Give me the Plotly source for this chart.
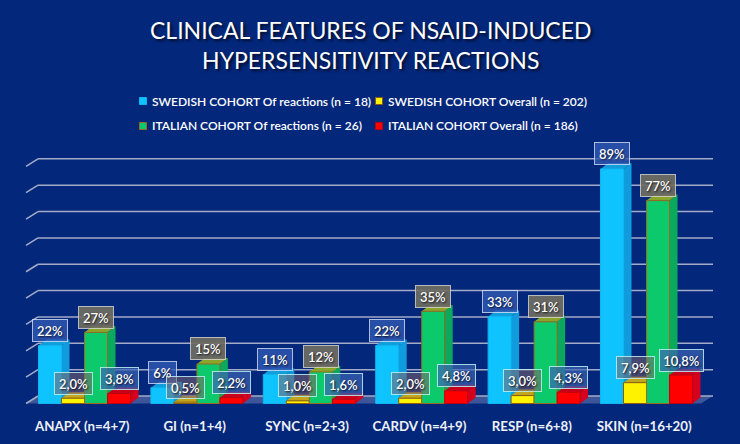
import plotly.graph_objects as go

categories = ["ANAPX (n=4+7)", "GI (n=1+4)", "SYNC (n=2+3)", "CARDV (n=4+9)", "RESP (n=6+8)", "SKIN (n=16+20)"]
swedish_reactions = [22, 6, 11, 22, 33, 89]
swedish_overall = [2.0, 0.5, 1.0, 2.0, 3.0, 7.9]
italian_reactions = [27, 15, 12, 35, 31, 77]
italian_overall = [3.8, 2.2, 1.6, 4.8, 4.3, 10.8]
legend_names = ["SWEDISH COHORT Of reactions (n = 18)", "SWEDISH COHORT Overall (n = 202)",
                "ITALIAN COHORT Of reactions (n = 26)", "ITALIAN COHORT Overall (n = 186)"]
title_text = "CLINICAL FEATURES OF NSAID-INDUCED<br>HYPERSENSITIVITY REACTIONS"
grid_values = list(range(0, 100, 10))

BG = "#03277b"
FONT = "Lato"
PX_X = 112.4        # px per category
PX_Y = 2.635        # px per percent
X0_PX = 84.5
BASE_PX = 403.5
W, H = 740, 444
BOT = 39.0
TOP = 130.0
xrange_ = [-X0_PX / PX_X, (W - X0_PX) / PX_X]
yrange_ = [-(H - BOT - BASE_PX) / PX_Y, (BASE_PX - TOP) / PX_Y]
bar_w = 23 / PX_X


def py(p):
    """Pixel row from the top -> paper fraction of the plot area."""
    return (H - BOT - p) / (H - BOT - TOP)


styles = [
    dict(front="#0fc3ff", side="#0f9bdc", top="#119fdc", line="#0fb4f0", box="rgba(50,90,180,0.80)", boxline="rgba(225,235,255,0.75)"),
    dict(front="#fff200", side="#c8a81a", top="#c2a51c", line="#8a5a10", box="rgba(125,100,110,0.55)", boxline="rgba(190,240,240,0.85)"),
    dict(front="#0cc96c", side="#0aa95c", top="#8aa52a", line="#9a6a1e", box="rgba(112,108,98,0.92)", boxline="rgba(225,225,215,0.75)"),
    dict(front="#ff0000", side="#d4001e", top="#c9001c", line="#c00010", box="rgba(60,100,180,0.70)", boxline="rgba(190,240,240,0.85)"),
]
series = [swedish_reactions, swedish_overall, italian_reactions, italian_overall]
fmt = [lambda v: f"{v:.0f}%", lambda v: f"{v:.1f}%".replace(".", ","),
       lambda v: f"{v:.0f}%", lambda v: f"{v:.1f}%".replace(".", ",")]
positions = list(range(len(categories)))
box_widths = {2: 27, 3: 34, 4: 37, 5: 43}

dx_wall, dy_wall = 12 / PX_X, 7.5 / PX_Y
dx_bar, dy_bar = 8 / PX_X, 6 / PX_Y

shapes = []
x_left = (26 - X0_PX) / PX_X
x_right = (713 - X0_PX) / PX_X
# floor
shapes.append(dict(type="path", layer="below", xref="x", yref="y", line=dict(width=0), fillcolor="#3d5599",
                   path=f"M {x_left} 0 L {x_right - dx_wall} 0 L {x_right} {dy_wall} L {x_left + dx_wall} {dy_wall} Z"))
for g in grid_values:
    shapes.append(dict(type="line", layer="below", xref="x", yref="y", x0=x_left, y0=g, x1=x_left + dx_wall, y1=g + dy_wall,
                       line=dict(color="#a3abc6", width=1.5)))
    shapes.append(dict(type="line", layer="below", xref="x", yref="y", x0=x_left + dx_wall, y0=g + dy_wall, x1=x_right, y1=g + dy_wall,
                       line=dict(color="#a3abc6", width=1.5)))

# 3-D side and top faces, computed from values
for s, (vals, st) in enumerate(zip(series, styles)):
    for p, v in zip(positions, vals):
        xl = p + (s - 2) * bar_w
        xr = xl + bar_w
        shapes.append(dict(type="path", layer="below", xref="x", yref="y", line=dict(width=0), fillcolor=st["side"],
                           path=f"M {xr} 0 L {xr+dx_bar} {dy_bar} L {xr+dx_bar} {v+dy_bar} L {xr} {v} Z"))
        shapes.append(dict(type="path", layer="below", xref="x", yref="y", line=dict(width=0), fillcolor=st["top"],
                           path=f"M {xl} {v} L {xl+dx_bar} {v+dy_bar} L {xr+dx_bar} {v+dy_bar} L {xr} {v} Z"))

fig = go.Figure()
for name, vals, st in zip(legend_names, series, styles):
    fig.add_trace(go.Bar(x=positions, y=vals, name=name, width=bar_w,
                         marker=dict(color=st["front"], line=dict(color=st["line"], width=1)),
                         showlegend=False, hoverinfo="skip"))

annotations = []
SHADOW = "1px 1px 2px rgba(0,0,0,0.8)"
# value labels
for s, (vals, st, f) in enumerate(zip(series, styles, fmt)):
    for p, v in zip(positions, vals):
        txt = f(v)
        annotations.append(dict(x=p + (s - 1.5) * bar_w, y=v, xref="x", yref="y", text=txt, showarrow=False,
                                xanchor="center", yanchor="middle", yshift=15,
                                width=box_widths[len(txt)], height=21,
                                bgcolor=st["box"], bordercolor=st["boxline"], borderwidth=1, borderpad=0,
                                font=dict(family=FONT, size=13, color="white", weight=600, shadow=SHADOW)))

# title
annotations.append(dict(x=370 / W, y=py(45), xref="paper", yref="paper", yanchor="middle", xanchor="center",
                        text=title_text, showarrow=False, align="center",
                        font=dict(family=FONT, size=23, color="white", shadow="2px 2px 3px rgba(0,0,0,0.7)")))

# legend: two rows, two columns
leg_pos = [(143, 101), (379, 101), (143, 126), (379, 126)]
for (lx, ly), name, st in zip(leg_pos, legend_names, styles):
    shapes.append(dict(type="rect", xref="paper", yref="paper",
                       x0=(lx - 3.5) / W, x1=(lx + 3.5) / W, y0=py(ly + 3.5), y1=py(ly - 3.5),
                       fillcolor=st["front"], line=dict(color=st["line"], width=1)))
    annotations.append(dict(x=(lx + 7) / W, y=py(ly), xref="paper", yref="paper", xanchor="left", yanchor="middle",
                            text=name, showarrow=False,
                            font=dict(family=FONT, size=12, color="white", weight=600)))

fig.update_layout(
    width=W, height=H, autosize=False,
    margin=dict(l=0, r=0, t=TOP, b=BOT, pad=0),
    paper_bgcolor=BG, plot_bgcolor="rgba(0,0,0,0)",
    barmode="group", bargap=1 - 4 * bar_w, bargroupgap=0, showlegend=False,
    shapes=shapes, annotations=annotations,
    xaxis=dict(range=xrange_, tickmode="array", tickvals=[p - 0.02 for p in positions], ticktext=categories,
               showgrid=False, zeroline=False, showline=False, ticks="", ticklabelstandoff=12,
               tickfont=dict(family=FONT, size=13.3, color="#eef1f8", weight=700)),
    yaxis=dict(range=yrange_, showgrid=False, zeroline=False, showline=False, showticklabels=False, ticks=""),
)
fig.write_html("out.html", config=dict(displayModeBar=False),
               post_script="document.body.style.margin='0';document.body.style.background='#03277b';")
